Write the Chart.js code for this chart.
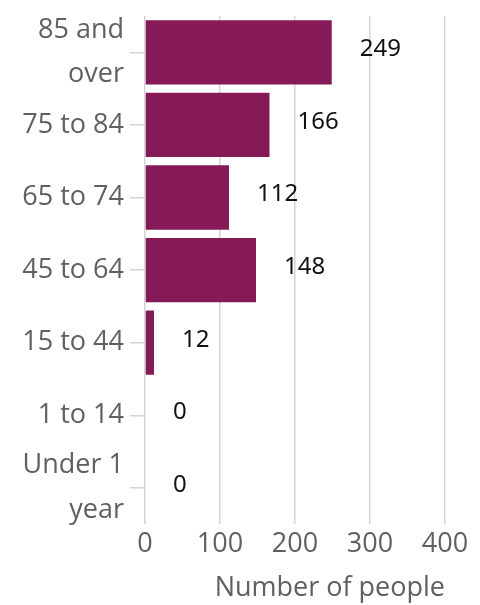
<!DOCTYPE html>
<html>
<head>
<meta charset="utf-8">
<script src="https://cdn.jsdelivr.net/npm/chart.js@4.4.1/dist/chart.umd.min.js"></script>
<style>
  body { margin: 0; background: #fff; }
  canvas { display: block; }
</style>
</head>
<body>
<canvas id="chart" width="480" height="605"></canvas>
<script>
var ageGroups = [["85 and", "over"], "75 to 84", "65 to 74", "45 to 64", "15 to 44", "1 to 14", ["Under 1", "year"]];
var people = [249, 166, 112, 148, 12, 0, 0];
var xTicks = [0, 100, 200, 300, 400];

var axisFont = { family: "'Open Sans', sans-serif", size: 27 };
var axisColor = "#606060";
var gridColor = "#d3d3d3";

// write the count next to the end of each bar
var barValues = {
    id: "barValues",
    afterDatasetsDraw: function(chart){
        var ctx = chart.ctx;
        var meta = chart.getDatasetMeta(0);
        ctx.save();
        ctx.font = "24px 'Noto Sans', sans-serif";
        ctx.fillStyle = "#111";
        ctx.textAlign = "left";
        ctx.textBaseline = "middle";
        meta.data.forEach(function(bar, i){
            ctx.fillText(people[i], bar.x + 28, bar.y - 3);
        });
        ctx.restore();
    }
};

window.onload = function(){
    var ctx = document.getElementById("chart").getContext("2d");
    new Chart(ctx, {
        type: "bar",
        data: {
            labels: ageGroups,
            datasets: [{
                data: people,
                backgroundColor: "#851a57",
                borderWidth: 0,
                barPercentage: 0.885,
                categoryPercentage: 1
            }]
        },
        options: {
            indexAxis: "y",
            responsive: false,
            animation: false,
            layout: { padding: { top: 16, right: 35, bottom: 0, left: 0 } },
            plugins: {
                legend: { display: false },
                tooltip: { enabled: false }
            },
            scales: {
                x: {
                    min: xTicks[0],
                    max: xTicks[xTicks.length - 1],
                    afterBuildTicks: function(scale){
                        scale.ticks = xTicks.map(function(v){ return { value: v }; });
                    },
                    grid: { color: gridColor, lineWidth: 1.5, drawTicks: false },
                    border: { display: false },
                    ticks: { color: axisColor, font: axisFont, padding: 4, maxRotation: 0 },
                    title: {
                        display: true,
                        text: "Number of people",
                        align: "end",
                        color: axisColor,
                        font: axisFont,
                        padding: { top: 8, bottom: 0 }
                    }
                },
                y: {
                    afterFit: function(scale){
                        scale.width = 145;
                        // the two-line labels may hang over the plot edges
                        scale.paddingTop = 0;
                        scale.paddingBottom = 0;
                    },
                    grid: { offset: false, drawOnChartArea: false, drawTicks: true, tickLength: 15, color: gridColor, lineWidth: 1.5 },
                    border: { display: false },
                    ticks: {
                        color: axisColor,
                        font: { family: "'Open Sans', sans-serif", size: 27, lineHeight: 1.65 },
                        padding: 6,
                        autoSkip: false
                    }
                }
            }
        },
        plugins: [barValues]
    });
};
</script>
</body>
</html>
